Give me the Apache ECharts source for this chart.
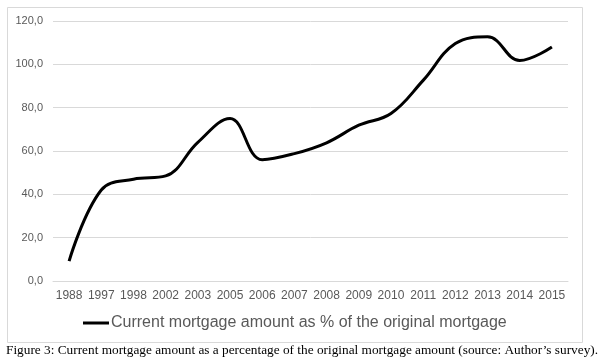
<!DOCTYPE html>
<html>
<head>
<meta charset="utf-8">
<script src="https://cdn.jsdelivr.net/npm/echarts@6/dist/echarts.min.js"></script>
<style>
html,body{margin:0;padding:0;background:#fff;}
#chart{width:606px;height:363px;}
</style>
</head>
<body>
<div id="chart"></div>
<script>
var categories = ['1988','1997','1998','2002','2003','2005','2006','2007','2008','2009','2010','2011','2012','2013','2014','2015'];
var values = [9.2, 42.0, 47.0, 48.5, 64.0, 75.0, 56.0, 58.8, 63.8, 71.9, 77.3, 92.6, 109.6, 112.7, 101.8, 108.0];
var seriesName = 'Current mortgage amount as % of the original mortgage';
var caption = 'Figure 3: Current mortgage amount as a percentage of the original mortgage amount (source: Author\u2019s survey).';
var yMin = 0, yMax = 120, yStep = 20;

var chart = echarts.init(document.getElementById('chart'), null, {renderer: 'canvas'});
chart.setOption({
  animation: false,
  backgroundColor: '#fff',
  title: {
    text: caption,
    left: 6,
    top: 344,
    padding: 0,
    textStyle: {fontFamily: 'Liberation Serif', fontSize: 13.3, fontWeight: 'normal', color: '#000'}
  },
  graphic: [{
    type: 'rect',
    shape: {x: 7.5, y: 7.5, width: 575, height: 335},
    style: {fill: 'none', stroke: '#d9d9d9', lineWidth: 1},
    silent: true
  }],
  legend: {
    data: [seriesName],
    left: 83,
    top: 315,
    padding: 0,
    icon: 'rect',
    itemWidth: 26,
    itemHeight: 3,
    itemGap: 0,
    textStyle: {fontFamily: 'Liberation Sans', fontSize: 16, color: '#595959', padding: [0, 0, 0, -3]}
  },
  grid: {left: 53, right: 38, top: 21, bottom: 82, containLabel: false},
  xAxis: {
    type: 'category',
    data: categories,
    boundaryGap: true,
    axisLine: {show: true, lineStyle: {color: '#d9d9d9', width: 1}},
    axisTick: {show: false},
    axisLabel: {color: '#595959', fontFamily: 'Liberation Sans', fontSize: 12, margin: 9, interval: 0}
  },
  yAxis: {
    type: 'value',
    min: yMin,
    max: yMax,
    interval: yStep,
    axisLine: {show: false},
    axisTick: {show: false},
    splitLine: {lineStyle: {color: '#d9d9d9', width: 1}},
    axisLabel: {
      color: '#595959', fontFamily: 'Liberation Sans', fontSize: 11, margin: 10,
      formatter: function (v) { return v.toFixed(1).replace('.', ','); }
    }
  },
  series: [{
    name: seriesName,
    type: 'line',
    data: values,
    smooth: 0.4,
    showSymbol: false,
    symbol: 'none',
    lineStyle: {color: '#000', width: 3},
    itemStyle: {color: '#000'}
  }]
});
</script>
</body>
</html>
